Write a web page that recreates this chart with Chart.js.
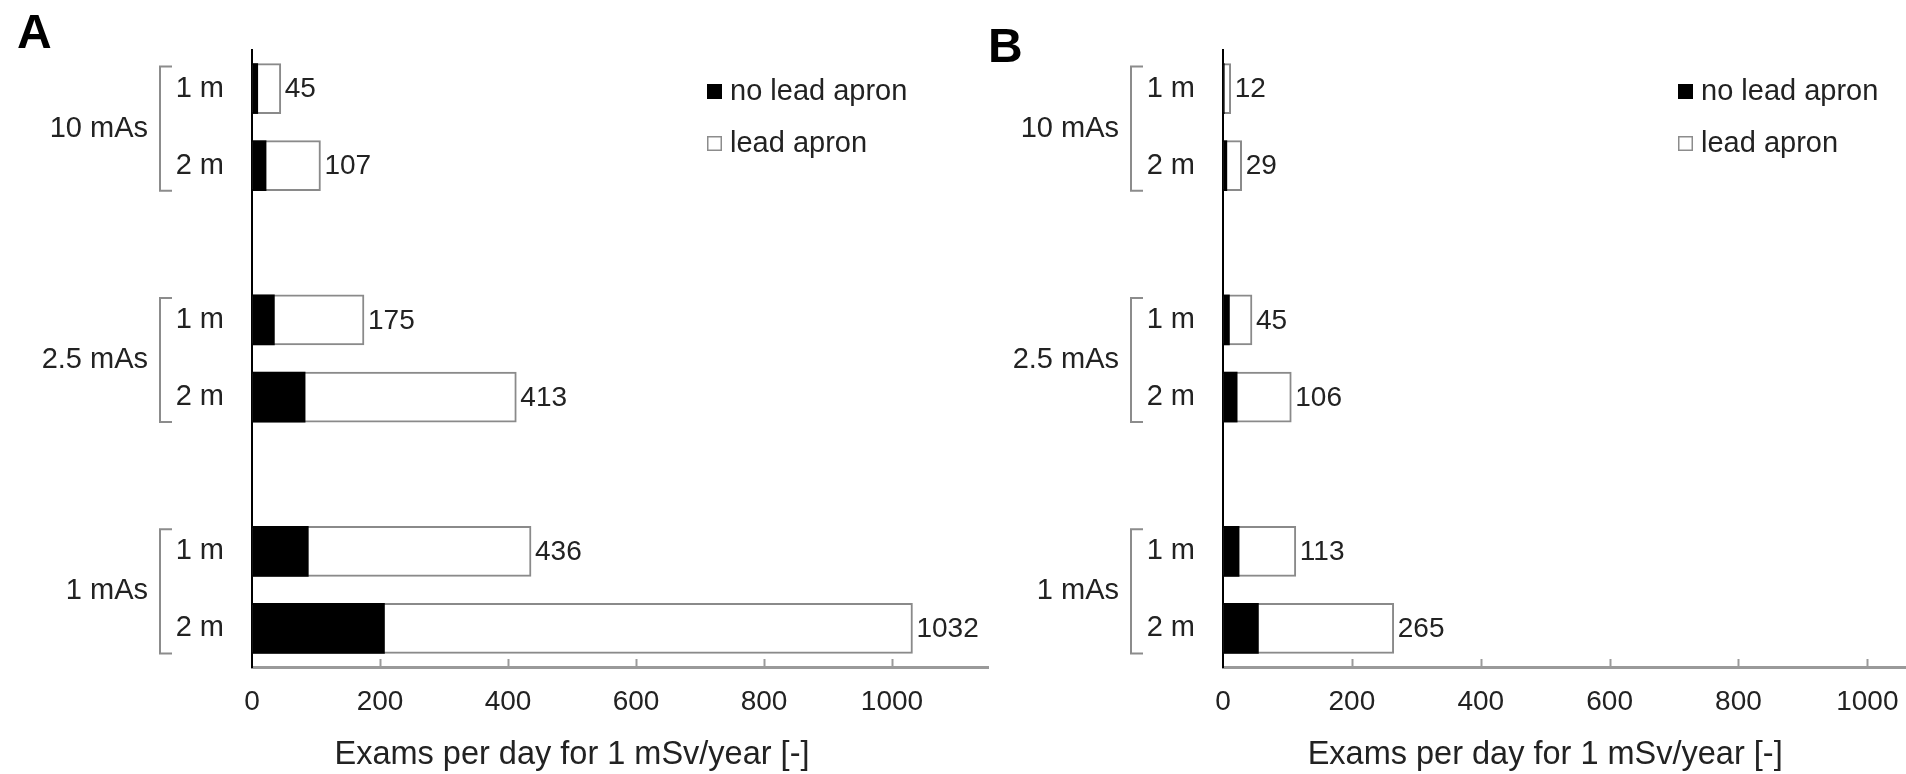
<!DOCTYPE html>
<html><head><meta charset="utf-8">
<script src="https://cdn.jsdelivr.net/npm/chart.js@4.4.1/dist/chart.umd.min.js"></script>
<style>
html,body{margin:0;padding:0;background:#fff;overflow:hidden;}
#wrap{position:relative;width:1906px;height:774px;}
.panel{position:absolute;top:0;height:774px;}
#pa{left:0;width:1000px;}
#pb{left:960px;width:946px;}
</style></head><body>
<div id="wrap">
<div class="panel" id="pa"><canvas id="ca" width="1000" height="774"></canvas></div>
<div class="panel" id="pb"><canvas id="cb" width="946" height="774"></canvas></div>
</div>
<script>
// ---- data ----
const groups = ['10 mAs', '2.5 mAs', '1 mAs'];
const distances = ['1 m', '2 m'];
const seriesNames = ['no lead apron', 'lead apron'];
const noLeadA = [9, 22, 35, 83, 88, 207];
const leadA = [45, 107, 175, 413, 436, 1032];
const noLeadB = [2, 6, 10, 22, 25, 55];
const leadB = [12, 29, 45, 106, 113, 265];
const xTicks = [0, 200, 400, 600, 800, 1000];
const axisTitle = 'Exams per day for 1 mSv/year [-]';
const panelLetters = ['A', 'B'];

const FONT = "'Liberation Sans', Arial, Helvetica, sans-serif";
const TXT = '#222222';
Chart.defaults.font.family = FONT;
Chart.defaults.color = TXT;

function build(noLead, lead) {
  const labels = [], dNo = [], dLead = [], groupRows = [];
  groups.forEach((g, gi) => {
    const rows = [];
    distances.forEach((d, di) => {
      const k = gi * distances.length + di;
      rows.push(labels.length);
      labels.push(d);
      dNo.push(noLead[k]);
      dLead.push(lead[k]);
    });
    groupRows.push(rows);
    if (gi < groups.length - 1) { labels.push(''); dNo.push(null); dLead.push(null); }
  });
  return { labels, dNo, dLead, groupRows };
}

function makeChart(canvasId, letter, noLead, lead, cfg) {
  const b = build(noLead, lead);
  const BAR = 50;
  const decor = {
    id: 'decor',
    afterDraw(chart) {
      const ctx = chart.ctx;
      const xs = chart.scales.x, ys = chart.scales.y;
      const ca = chart.chartArea;
      ctx.save();
      // inward tick marks
      ctx.strokeStyle = '#9a9a9a';
      ctx.lineWidth = 2;
      xTicks.forEach(v => {
        if (v === 0) return;
        const px = Math.round(xs.getPixelForValue(v)) + 0.5;
        ctx.beginPath();
        ctx.moveTo(px, ca.bottom);
        ctx.lineTo(px, ca.bottom - 8);
        ctx.stroke();
      });
      // value labels
      ctx.fillStyle = TXT;
      ctx.font = '28px ' + FONT;
      ctx.textAlign = 'left';
      ctx.textBaseline = 'middle';
      b.dLead.forEach((v, i) => {
        if (v === null) return;
        ctx.fillText(String(v), xs.getPixelForValue(v) + 4, ys.getPixelForValue(i) + 1);
      });
      // brackets and group labels
      const bx = ca.left - 92;
      b.groupRows.forEach((rows, gi) => {
        const y1 = ys.getPixelForValue(rows[0]) - BAR / 2 + 3;
        const y2 = ys.getPixelForValue(rows[rows.length - 1]) + BAR / 2;
        ctx.strokeStyle = '#8c8c8c';
        ctx.lineWidth = 2;
        ctx.beginPath();
        ctx.moveTo(bx + 12, y1);
        ctx.lineTo(bx, y1);
        ctx.lineTo(bx, y2);
        ctx.lineTo(bx + 12, y2);
        ctx.stroke();
        ctx.fillStyle = TXT;
        ctx.font = '29px ' + FONT;
        ctx.textAlign = 'right';
        ctx.textBaseline = 'middle';
        ctx.fillText(groups[gi], bx - 12, (y1 + y2) / 2);
      });
      // legend
      const lx = ca.left + 455;
      const rowsY = [92, 144];
      chart.data.datasets.forEach((ds, i) => {
        const y = rowsY[i];
        ctx.fillStyle = ds.backgroundColor;
        ctx.fillRect(lx, y - 8, 15, 15);
        if (ds.borderWidth) {
          ctx.strokeStyle = '#8c8c8c';
          ctx.lineWidth = 1.5;
          ctx.strokeRect(lx + 0.75, y - 7.25, 13.5, 13.5);
        }
        ctx.fillStyle = TXT;
        ctx.font = '29px ' + FONT;
        ctx.textAlign = 'left';
        ctx.textBaseline = 'middle';
        ctx.fillText(ds.label, lx + 23, y);
      });
      // axis title
      ctx.fillStyle = TXT;
      ctx.font = '32.5px ' + FONT;
      ctx.textAlign = 'center';
      ctx.textBaseline = 'middle';
      ctx.fillText(axisTitle, xs.getPixelForValue(500), 755);
      // panel letter
      ctx.fillStyle = '#000';
      ctx.font = 'bold 48px ' + FONT;
      ctx.textAlign = 'left';
      ctx.textBaseline = 'alphabetic';
      ctx.fillText(letter, cfg.letterX, cfg.letterY);
      ctx.restore();
    }
  };
  return new Chart(document.getElementById(canvasId), {
    type: 'bar',
    data: {
      labels: b.labels,
      datasets: [
        { label: seriesNames[0], data: b.dNo, backgroundColor: '#000000', borderWidth: 0,
          grouped: false, order: 0, barThickness: BAR },
        { label: seriesNames[1], data: b.dLead, backgroundColor: '#ffffff', borderColor: '#8a8a8a',
          borderWidth: 2, grouped: false, order: 1, barThickness: BAR }
      ]
    },
    options: {
      indexAxis: 'y',
      responsive: false,
      devicePixelRatio: 1,
      animation: false,
      layout: { padding: { top: 50, right: cfg.padRight, bottom: 0, left: 0 } },
      plugins: { legend: { display: false }, tooltip: { enabled: false } },
      scales: {
        x: {
          type: 'linear', min: 0, max: cfg.xMax, position: 'bottom',
          grid: { display: true, drawOnChartArea: false, drawTicks: false },
          border: { display: true, color: '#9a9a9a', width: 3 },
          ticks: { font: { size: 28 }, color: TXT, padding: 18, maxRotation: 0,
                   callback: v => String(v) },
          afterBuildTicks: s => { s.ticks = xTicks.map(v => ({ value: v })); },
          afterFit: s => { s.height = 107; s.paddingLeft = 0; s.paddingRight = 0; }
        },
        y: {
          type: 'category',
          grid: { display: true, drawOnChartArea: false, drawTicks: false },
          border: { display: true, color: '#000000', width: 2 },
          ticks: { font: { size: 29 }, color: TXT, padding: 28, autoSkip: false },
          afterFit: s => { s.width = cfg.yWidth; }
        }
      }
    },
    plugins: [decor]
  });
}

makeChart('ca', panelLetters[0], noLeadA, leadA, { xMax: 1150, yWidth: 252, padRight: 12, letterX: 17, letterY: 48 });
makeChart('cb', panelLetters[1], noLeadB, leadB, { xMax: 1060, yWidth: 263, padRight: 0, letterX: 28, letterY: 62 });
</script>
</body></html>
